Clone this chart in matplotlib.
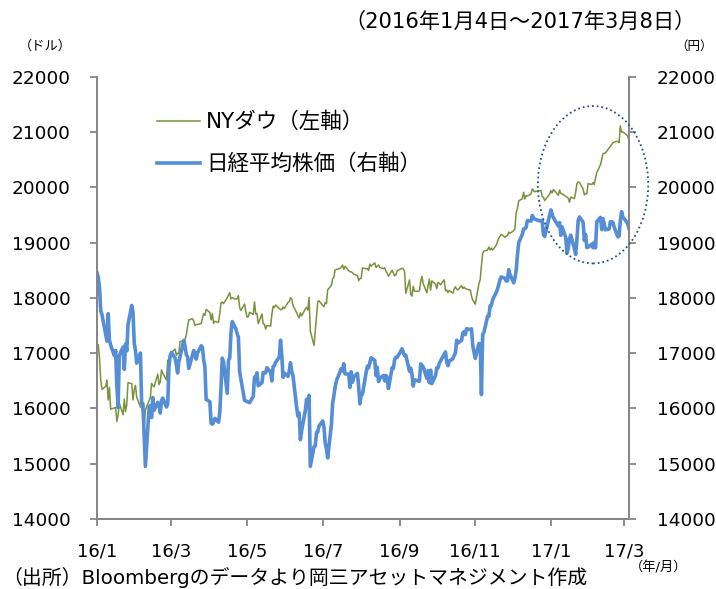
"""NYダウと日経平均株価の推移 (2016/1/4 - 2017/3/8)"""
import pandas as pd
import matplotlib
matplotlib.use("Agg")
from matplotlib import pyplot as plt
from matplotlib.patches import Ellipse
import matplotlib.dates as mdates

plt.rcParams['font.family'] = ['DejaVu Sans', 'Noto Sans CJK JP']

# NYダウ (ドル) 終値
dow_dates = [
    "2016-01-04", "2016-01-05", "2016-01-06", "2016-01-07", "2016-01-08", "2016-01-11", "2016-01-12",
    "2016-01-13", "2016-01-14", "2016-01-15", "2016-01-19", "2016-01-20", "2016-01-21", "2016-01-22",
    "2016-01-25", "2016-01-26", "2016-01-27", "2016-01-28", "2016-01-29",
    "2016-02-01", "2016-02-02", "2016-02-03", "2016-02-04", "2016-02-05", "2016-02-08", "2016-02-09",
    "2016-02-10", "2016-02-11", "2016-02-12", "2016-02-16", "2016-02-17", "2016-02-18", "2016-02-19",
    "2016-02-22", "2016-02-23", "2016-02-24", "2016-02-25", "2016-02-26", "2016-02-29",
    "2016-03-01", "2016-03-02", "2016-03-03", "2016-03-04", "2016-03-07", "2016-03-08", "2016-03-09",
    "2016-03-10", "2016-03-11", "2016-03-14", "2016-03-15", "2016-03-16", "2016-03-17", "2016-03-18",
    "2016-03-21", "2016-03-22", "2016-03-23", "2016-03-24", "2016-03-28", "2016-03-29", "2016-03-30",
    "2016-03-31",
    "2016-04-01", "2016-04-04", "2016-04-05", "2016-04-06", "2016-04-07", "2016-04-08", "2016-04-11",
    "2016-04-12", "2016-04-13", "2016-04-14", "2016-04-15", "2016-04-18", "2016-04-19", "2016-04-20",
    "2016-04-21", "2016-04-22", "2016-04-25", "2016-04-26", "2016-04-27", "2016-04-28", "2016-04-29",
    "2016-05-02", "2016-05-03", "2016-05-04", "2016-05-05", "2016-05-06", "2016-05-09", "2016-05-10",
    "2016-05-11", "2016-05-12", "2016-05-13", "2016-05-16", "2016-05-17", "2016-05-18", "2016-05-19",
    "2016-05-20", "2016-05-23", "2016-05-24", "2016-05-25", "2016-05-26", "2016-05-27", "2016-05-31",
    "2016-06-01", "2016-06-02", "2016-06-03", "2016-06-06", "2016-06-07", "2016-06-08", "2016-06-09",
    "2016-06-10", "2016-06-13", "2016-06-14", "2016-06-15", "2016-06-16", "2016-06-17", "2016-06-20",
    "2016-06-21", "2016-06-22", "2016-06-23", "2016-06-24", "2016-06-27", "2016-06-28", "2016-06-29",
    "2016-06-30",
    "2016-07-01", "2016-07-05", "2016-07-06", "2016-07-07", "2016-07-08", "2016-07-11", "2016-07-12",
    "2016-07-13", "2016-07-14", "2016-07-15", "2016-07-18", "2016-07-19", "2016-07-20", "2016-07-21",
    "2016-07-22", "2016-07-25", "2016-07-26", "2016-07-27", "2016-07-28", "2016-07-29",
    "2016-08-01", "2016-08-02", "2016-08-03", "2016-08-04", "2016-08-05", "2016-08-08", "2016-08-09",
    "2016-08-10", "2016-08-11", "2016-08-12", "2016-08-15", "2016-08-16", "2016-08-17", "2016-08-18",
    "2016-08-19", "2016-08-22", "2016-08-23", "2016-08-24", "2016-08-25", "2016-08-26", "2016-08-29",
    "2016-08-30", "2016-08-31",
    "2016-09-01", "2016-09-02", "2016-09-06", "2016-09-07", "2016-09-08", "2016-09-09", "2016-09-12",
    "2016-09-13", "2016-09-14", "2016-09-15", "2016-09-16", "2016-09-19", "2016-09-20", "2016-09-21",
    "2016-09-22", "2016-09-23", "2016-09-26", "2016-09-27", "2016-09-28", "2016-09-29", "2016-09-30",
    "2016-10-03", "2016-10-04", "2016-10-05", "2016-10-06", "2016-10-07", "2016-10-10", "2016-10-11",
    "2016-10-12", "2016-10-13", "2016-10-14", "2016-10-17", "2016-10-18", "2016-10-19", "2016-10-20",
    "2016-10-21", "2016-10-24", "2016-10-25", "2016-10-26", "2016-10-27", "2016-10-28", "2016-10-31",
    "2016-11-01", "2016-11-02", "2016-11-03", "2016-11-04", "2016-11-07", "2016-11-08", "2016-11-09",
    "2016-11-10", "2016-11-11", "2016-11-14", "2016-11-15", "2016-11-16", "2016-11-17", "2016-11-18",
    "2016-11-21", "2016-11-22", "2016-11-23", "2016-11-25", "2016-11-28", "2016-11-29", "2016-11-30",
    "2016-12-01", "2016-12-02", "2016-12-05", "2016-12-06", "2016-12-07", "2016-12-08", "2016-12-09",
    "2016-12-12", "2016-12-13", "2016-12-14", "2016-12-15", "2016-12-16", "2016-12-19", "2016-12-20",
    "2016-12-21", "2016-12-22", "2016-12-23", "2016-12-27", "2016-12-28", "2016-12-29", "2016-12-30",
    "2017-01-03", "2017-01-04", "2017-01-05", "2017-01-06", "2017-01-09", "2017-01-10", "2017-01-11",
    "2017-01-12", "2017-01-13", "2017-01-17", "2017-01-18", "2017-01-19", "2017-01-20", "2017-01-23",
    "2017-01-24", "2017-01-25", "2017-01-26", "2017-01-27", "2017-01-30", "2017-01-31",
    "2017-02-01", "2017-02-02", "2017-02-03", "2017-02-06", "2017-02-07", "2017-02-08", "2017-02-09",
    "2017-02-10", "2017-02-13", "2017-02-14", "2017-02-15", "2017-02-16", "2017-02-17", "2017-02-21",
    "2017-02-22", "2017-02-23", "2017-02-24", "2017-02-27", "2017-02-28",
    "2017-03-01", "2017-03-02", "2017-03-03", "2017-03-06", "2017-03-07", "2017-03-08",
]
dow_values = [
    17149, 17158, 16907, 16515, 16347, 16399, 16516, 16152, 16380, 15988, 16016, 15766, 15882, 16094,
    15886, 16168, 15944, 16070, 16466,
    16449, 16154, 16337, 16417, 16205, 16027, 16014, 15914, 15660, 15974, 16196, 16454, 16414, 16392,
    16620, 16432, 16485, 16698, 16640, 16517,
    16865, 16900, 16944, 17007, 17074, 16964, 17001, 16996, 17213, 17230, 17251, 17326, 17481, 17602,
    17624, 17583, 17503, 17516, 17536, 17634, 17717, 17685,
    17793, 17738, 17604, 17716, 17542, 17577, 17556, 17722, 17909, 17927, 17898, 18004, 18053, 18096,
    17983, 18004, 17977, 17991, 18042, 17831, 17774,
    17892, 17750, 17652, 17661, 17740, 17705, 17928, 17711, 17721, 17535, 17711, 17530, 17527, 17436,
    17501, 17492, 17706, 17851, 17828, 17873, 17787,
    17790, 17838, 17807, 17920, 17938, 18005, 17985, 17865, 17733, 17675, 17640, 17733, 17675, 17805,
    17830, 17780, 18011, 17400, 17140, 17410, 17695, 17930,
    17949, 17841, 17919, 17896, 18147, 18227, 18348, 18373, 18507, 18517, 18534, 18559, 18596, 18518,
    18571, 18493, 18474, 18473, 18456, 18432,
    18404, 18314, 18355, 18352, 18544, 18529, 18533, 18496, 18613, 18576, 18636, 18552, 18574, 18597,
    18553, 18530, 18548, 18482, 18448, 18395, 18503, 18454, 18401,
    18419, 18492, 18538, 18526, 18480, 18085, 18326, 18067, 18034, 18212, 18124, 18120, 18130, 18294,
    18392, 18261, 18094, 18228, 18339, 18143, 18308,
    18254, 18168, 18281, 18269, 18240, 18329, 18129, 18144, 18099, 18138, 18087, 18162, 18203, 18162,
    18146, 18223, 18169, 18199, 18170, 18161, 18142,
    18037, 17960, 17931, 17888, 18260, 18333, 18590, 18808, 18848, 18869, 18923, 18868, 18904, 18868,
    18957, 19024, 19084, 19153, 19098, 19122, 19124,
    19192, 19171, 19217, 19252, 19549, 19615, 19757, 19797, 19912, 19793, 19853, 19843, 19884, 19975,
    19942, 19919, 19934, 19946, 19834, 19820, 19763,
    19882, 19943, 19900, 19964, 19888, 19856, 19954, 19892, 19886, 19827, 19804, 19732, 19827, 19799,
    19913, 20069, 20100, 20094, 19971, 19864,
    19891, 19885, 20071, 20052, 20090, 20054, 20172, 20269, 20413, 20504, 20612, 20620, 20624, 20744,
    20776, 20811, 20822, 20837, 20812,
    21116, 21003, 21006, 20954, 20924, 20855,
]

# 日経平均株価 (円) 終値
nikkei_dates = [
    "2016-01-04", "2016-01-05", "2016-01-06", "2016-01-07", "2016-01-08", "2016-01-12", "2016-01-13",
    "2016-01-14", "2016-01-15", "2016-01-18", "2016-01-19", "2016-01-20", "2016-01-21", "2016-01-22",
    "2016-01-25", "2016-01-26", "2016-01-27", "2016-01-28", "2016-01-29",
    "2016-02-01", "2016-02-02", "2016-02-03", "2016-02-04", "2016-02-05", "2016-02-08", "2016-02-09",
    "2016-02-10", "2016-02-12", "2016-02-15", "2016-02-16", "2016-02-17", "2016-02-18", "2016-02-19",
    "2016-02-22", "2016-02-23", "2016-02-24", "2016-02-25", "2016-02-26", "2016-02-29",
    "2016-03-01", "2016-03-02", "2016-03-03", "2016-03-04", "2016-03-07", "2016-03-08", "2016-03-09",
    "2016-03-10", "2016-03-11", "2016-03-14", "2016-03-15", "2016-03-16", "2016-03-17", "2016-03-18",
    "2016-03-22", "2016-03-23", "2016-03-24", "2016-03-25", "2016-03-28", "2016-03-29", "2016-03-30",
    "2016-03-31",
    "2016-04-01", "2016-04-04", "2016-04-05", "2016-04-06", "2016-04-07", "2016-04-08", "2016-04-11",
    "2016-04-12", "2016-04-13", "2016-04-14", "2016-04-15", "2016-04-18", "2016-04-19", "2016-04-20",
    "2016-04-21", "2016-04-22", "2016-04-25", "2016-04-26", "2016-04-27", "2016-04-28",
    "2016-05-02", "2016-05-06", "2016-05-09", "2016-05-10", "2016-05-11", "2016-05-12", "2016-05-13",
    "2016-05-16", "2016-05-17", "2016-05-18", "2016-05-19", "2016-05-20", "2016-05-23", "2016-05-24",
    "2016-05-25", "2016-05-26", "2016-05-27", "2016-05-30", "2016-05-31",
    "2016-06-01", "2016-06-02", "2016-06-03", "2016-06-06", "2016-06-07", "2016-06-08", "2016-06-09",
    "2016-06-10", "2016-06-13", "2016-06-14", "2016-06-15", "2016-06-16", "2016-06-17", "2016-06-20",
    "2016-06-21", "2016-06-22", "2016-06-23", "2016-06-24", "2016-06-27", "2016-06-28", "2016-06-29",
    "2016-06-30",
    "2016-07-01", "2016-07-04", "2016-07-05", "2016-07-06", "2016-07-07", "2016-07-08", "2016-07-11",
    "2016-07-12", "2016-07-13", "2016-07-14", "2016-07-15", "2016-07-19", "2016-07-20", "2016-07-21",
    "2016-07-22", "2016-07-25", "2016-07-26", "2016-07-27", "2016-07-28", "2016-07-29",
    "2016-08-01", "2016-08-02", "2016-08-03", "2016-08-04", "2016-08-05", "2016-08-08", "2016-08-09",
    "2016-08-10", "2016-08-12", "2016-08-15", "2016-08-16", "2016-08-17", "2016-08-18", "2016-08-19",
    "2016-08-22", "2016-08-23", "2016-08-24", "2016-08-25", "2016-08-26", "2016-08-29", "2016-08-30",
    "2016-08-31",
    "2016-09-01", "2016-09-02", "2016-09-05", "2016-09-06", "2016-09-07", "2016-09-08", "2016-09-09",
    "2016-09-12", "2016-09-13", "2016-09-14", "2016-09-15", "2016-09-16", "2016-09-20", "2016-09-21",
    "2016-09-23", "2016-09-26", "2016-09-27", "2016-09-28", "2016-09-29", "2016-09-30",
    "2016-10-03", "2016-10-04", "2016-10-05", "2016-10-06", "2016-10-07", "2016-10-11", "2016-10-12",
    "2016-10-13", "2016-10-14", "2016-10-17", "2016-10-18", "2016-10-19", "2016-10-20", "2016-10-21",
    "2016-10-24", "2016-10-25", "2016-10-26", "2016-10-27", "2016-10-28", "2016-10-31",
    "2016-11-01", "2016-11-02", "2016-11-04", "2016-11-07", "2016-11-08", "2016-11-09", "2016-11-10",
    "2016-11-11", "2016-11-14", "2016-11-15", "2016-11-16", "2016-11-17", "2016-11-18", "2016-11-21",
    "2016-11-22", "2016-11-24", "2016-11-25", "2016-11-28", "2016-11-29", "2016-11-30",
    "2016-12-01", "2016-12-02", "2016-12-05", "2016-12-06", "2016-12-07", "2016-12-08", "2016-12-09",
    "2016-12-12", "2016-12-13", "2016-12-14", "2016-12-15", "2016-12-16", "2016-12-19", "2016-12-20",
    "2016-12-21", "2016-12-22", "2016-12-26", "2016-12-27", "2016-12-28", "2016-12-29", "2016-12-30",
    "2017-01-04", "2017-01-05", "2017-01-06", "2017-01-10", "2017-01-11", "2017-01-12", "2017-01-13",
    "2017-01-16", "2017-01-17", "2017-01-18", "2017-01-19", "2017-01-20", "2017-01-23", "2017-01-24",
    "2017-01-25", "2017-01-26", "2017-01-27", "2017-01-30", "2017-01-31",
    "2017-02-01", "2017-02-02", "2017-02-03", "2017-02-06", "2017-02-07", "2017-02-08", "2017-02-09",
    "2017-02-10", "2017-02-13", "2017-02-14", "2017-02-15", "2017-02-16", "2017-02-17", "2017-02-20",
    "2017-02-21", "2017-02-22", "2017-02-23", "2017-02-24", "2017-02-27", "2017-02-28",
    "2017-03-01", "2017-03-02", "2017-03-03", "2017-03-06", "2017-03-07", "2017-03-08",
]
nikkei_values = [
    18451, 18374, 18191, 17767, 17698, 17219, 17716, 17241, 17147, 16956, 17048, 16416, 16017, 16959,
    17111, 16708, 17164, 17042, 17518,
    17865, 17750, 17191, 17045, 16820, 17004, 16085, 16085, 14953, 16022, 16054, 15837, 16196, 15967,
    16111, 16053, 15916, 16140, 16188, 16027,
    16085, 16747, 16960, 17015, 16911, 16784, 16642, 16852, 16939, 17233, 17118, 16975, 16937, 16725,
    17049, 17001, 16892, 17003, 17135, 17104, 16879, 16759,
    16164, 16123, 15733, 15716, 15750, 15821, 15751, 15929, 16382, 16912, 16848, 16276, 16874, 16907,
    17364, 17573, 17440, 17354, 17291, 16666,
    16147, 16106, 16217, 16565, 16579, 16646, 16412, 16466, 16653, 16644, 16646, 16736, 16655, 16499,
    16758, 16772, 16834, 16931, 17235,
    16955, 16562, 16642, 16580, 16675, 16830, 16668, 16601, 16019, 15859, 15919, 15434, 15599, 15965,
    16169, 16065, 16238, 14952, 15309, 15323, 15566, 15575,
    15682, 15775, 15669, 15378, 15276, 15106, 15708, 16095, 16231, 16385, 16497, 16723, 16681, 16810,
    16627, 16620, 16383, 16664, 16476, 16569,
    16635, 16391, 16083, 16254, 16254, 16650, 16764, 16735, 16919, 16869, 16596, 16745, 16486, 16545,
    16598, 16497, 16597, 16556, 16360, 16737, 16725, 16887,
    16926, 16925, 17037, 17081, 17012, 16958, 16965, 16672, 16729, 16614, 16405, 16519, 16492, 16807,
    16754, 16544, 16683, 16465, 16693, 16450,
    16599, 16736, 16735, 16819, 16860, 17024, 16840, 16774, 16856, 16900, 16963, 16998, 17235, 17184,
    17234, 17365, 17391, 17336, 17446, 17425,
    17442, 17134, 16905, 17177, 17171, 16251, 17344, 17374, 17672, 17668, 17862, 17862, 17967, 18106,
    18162, 18333, 18381, 18356, 18307, 18308,
    18513, 18426, 18274, 18360, 18496, 18765, 18996, 19155, 19250, 19253, 19273, 19401, 19391, 19494,
    19444, 19427, 19396, 19403, 19401, 19145, 19114,
    19594, 19520, 19454, 19301, 19364, 19134, 19287, 19095, 18813, 18894, 19072, 19137, 18891, 18787,
    19057, 19402, 19467, 19368, 19041,
    19148, 18914, 18918, 18976, 18910, 19007, 18907, 19378, 19459, 19238, 19437, 19347, 19234, 19251,
    19381, 19379, 19371, 19283, 19107, 19118,
    19393, 19564, 19469, 19379, 19344, 19254,
]

tick_dates = ["2016-01-04", "2016-03-04", "2016-05-04", "2016-07-04", "2016-09-04",
              "2016-11-04", "2017-01-04", "2017-03-04"]
tick_labels = ["16/1", "16/3", "16/5", "16/7", "16/9", "16/11", "17/1", "17/3"]
y_ticks = list(range(14000, 22001, 1000))

green = "#77933C"
blue = "#558ED5"
grey = "#868686"

fig = plt.figure(figsize=(7.16, 5.89), dpi=100)
ax = fig.add_axes([0.1355, 0.1189, 0.7430, 0.7504])
ax2 = ax.twinx()

line_dow, = ax.plot(pd.to_datetime(dow_dates), dow_values, color=green, lw=1.1,
                    label="NYダウ（左軸）", zorder=3)
line_nk, = ax2.plot(pd.to_datetime(nikkei_dates), nikkei_values, color=blue, lw=2.6,
                    label="日経平均株価（右軸）", zorder=2)

for a in (ax, ax2):
    a.set_ylim(14000, 22000)
    a.set_yticks(y_ticks)
    a.spines["top"].set_visible(False)
    for side in ("left", "right", "bottom"):
        a.spines[side].set_color(grey)
        a.spines[side].set_linewidth(1.3)

ax.set_xlim(pd.Timestamp("2016-01-04"), pd.Timestamp("2017-03-08"))
ax.set_xticks(pd.to_datetime(tick_dates))
ax.set_xticklabels(tick_labels)
ax.tick_params(axis="x", direction="out", length=5, width=1.3, color=grey,
               labelsize=13, pad=12)
ax.tick_params(axis="y", direction="out", length=5, width=1.3, color=grey,
               labelsize=13.3, pad=14)
ax2.tick_params(axis="y", direction="out", length=5, width=1.3, color=grey,
                labelsize=13.3, pad=15)

# 注目部分の楕円
center = mdates.date2num(pd.Timestamp("2017-02-07"))
ell = Ellipse((center, 20050), width=89, height=2850, fill=False,
              edgecolor="#2F4F8F", lw=1.3, linestyle=(0, (1, 1.6)),
              clip_on=False, zorder=5)
ax2.add_patch(ell)

ax2.legend(handles=[line_dow, line_nk], loc="upper left",
           bbox_to_anchor=(0.198, 0.836), bbox_transform=fig.transFigure,
           frameon=False, fontsize=15.5, handlelength=2.0, handletextpad=0.3,
           labelspacing=1.0, borderpad=0.2)

fig.text(0.972, 0.963, "（2016年1月4日～2017年3月8日）", ha="right", va="center",
         fontsize=15.2)
fig.text(0.064, 0.921, "（ドル）", ha="center", va="center", fontsize=9.5)
fig.text(0.970, 0.921, "（円）", ha="center", va="center", fontsize=9)
fig.text(0.920, 0.036, "（年/月）", ha="center", va="center", fontsize=9.5)
fig.text(0.003, 0.02, "（出所）Bloombergのデータより岡三アセットマネジメント作成",
         ha="left", va="center", fontsize=14.3)

fig.savefig("out.png", dpi=100)
